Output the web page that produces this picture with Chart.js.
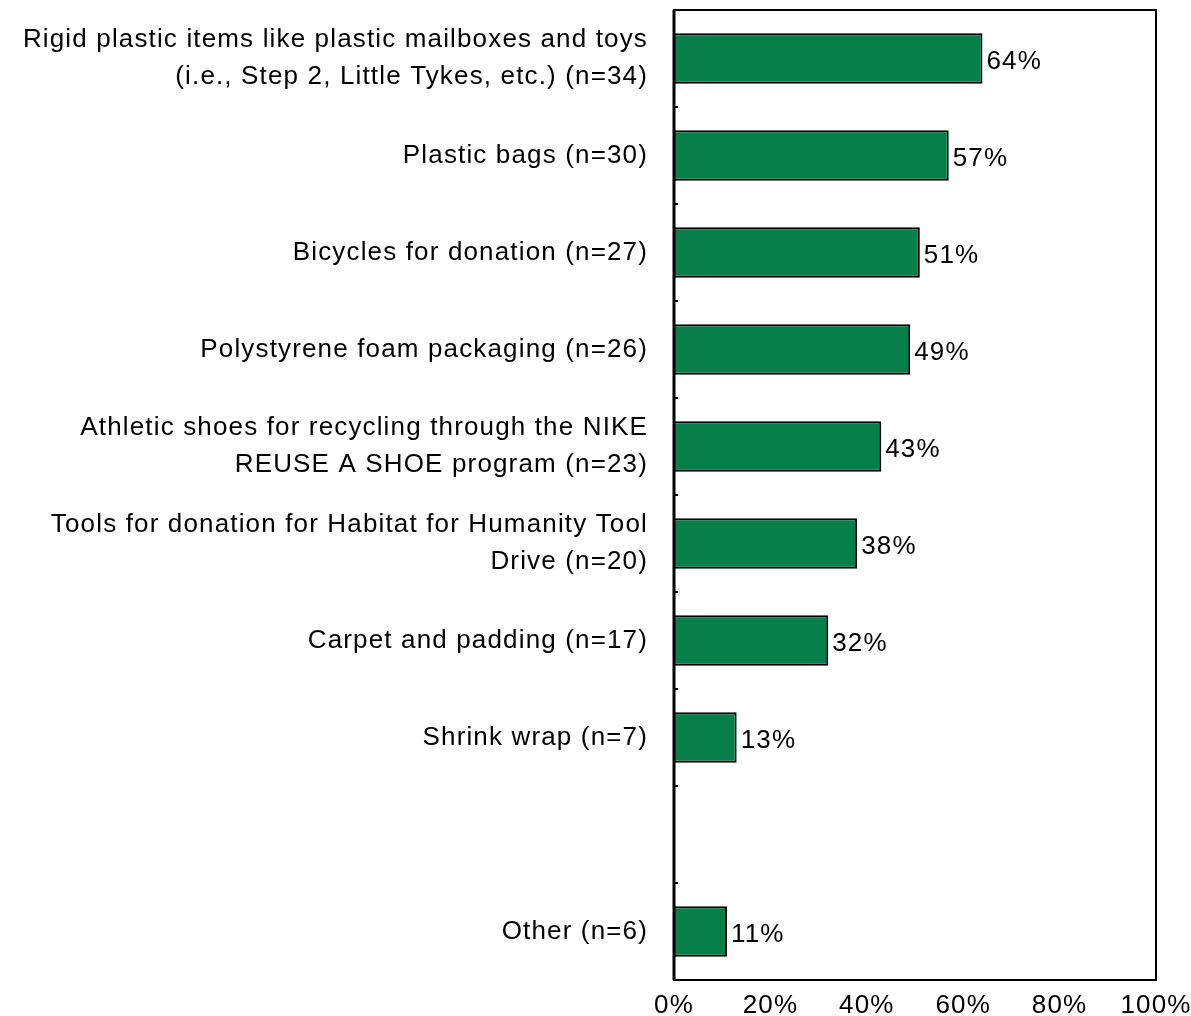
<!DOCTYPE html>
<html>
<head>
<meta charset="utf-8">
<script src="https://cdn.jsdelivr.net/npm/chart.js@4/dist/chart.umd.min.js"></script>
<style>
html,body{margin:0;padding:0;background:#fff;}
#wrap{width:1191px;height:1016px;position:relative;}
</style>
</head>
<body>
<div id="wrap"><canvas id="c" width="1191" height="1016"></canvas></div>
<script>
const categories = [
  ["Rigid plastic items like plastic mailboxes and toys", "(i.e., Step 2, Little Tykes, etc.) (n=34)"],
  "Plastic bags (n=30)",
  "Bicycles for donation (n=27)",
  "Polystyrene foam packaging (n=26)",
  ["Athletic shoes for recycling through the NIKE", "REUSE A SHOE program (n=23)"],
  ["Tools for donation for Habitat for Humanity Tool", "Drive (n=20)"],
  "Carpet and padding (n=17)",
  "Shrink wrap (n=7)",
  "",
  "Other (n=6)"
];
const percentValues = [64, 57, 51, 49, 43, 38, 32, 13, null, 11];
const xTickValues = [0, 20, 40, 60, 80, 100];

const FONT = "'Liberation Sans', Arial, sans-serif";
const LS = '1.15px';

const spacingPlugin = {
  id: 'spacing',
  beforeUpdate(chart) { chart.ctx.letterSpacing = LS; },
  beforeLayout(chart) { chart.ctx.letterSpacing = LS; },
  beforeDraw(chart) { chart.ctx.letterSpacing = LS; }
};

const framePlugin = {
  id: 'frame',
  afterDatasetsDraw(chart) {
    const ctx = chart.ctx, a = chart.chartArea;
    ctx.save();
    ctx.letterSpacing = LS;
    ctx.strokeStyle = '#000';
    ctx.lineWidth = 2;
    ctx.strokeRect(a.left, a.top, a.right - a.left, a.bottom - a.top);
    ctx.lineWidth = 3;
    ctx.beginPath();
    ctx.moveTo(a.left, a.top); ctx.lineTo(a.left, a.bottom);
    ctx.stroke();
    ctx.lineWidth = 2;
    // small inside ticks at category boundaries
    const n = categories.length;
    const step = (a.bottom - a.top) / n;
    ctx.beginPath();
    for (let i = 1; i < n; i++) {
      const yy = Math.round(a.top + step * i);
      ctx.moveTo(a.left, yy);
      ctx.lineTo(a.left + 4, yy);
    }
    ctx.stroke();
    // value labels
    const meta = chart.getDatasetMeta(0);
    ctx.fillStyle = '#000';
    ctx.font = '26px ' + FONT;
    ctx.textBaseline = 'middle';
    ctx.textAlign = 'left';
    meta.data.forEach((bar, i) => {
      const v = percentValues[i];
      if (v == null) return;
      ctx.fillText(v + '%', bar.x + 4, bar.y + 3);
    });
    ctx.restore();
  }
};

new Chart(document.getElementById('c'), {
  type: 'bar',
  data: {
    labels: categories,
    datasets: [{
      data: percentValues,
      backgroundColor: '#077F4B',
      borderColor: '#000',
      borderWidth: 2,
      borderSkipped: 'left',
      barPercentage: 0.52,
      categoryPercentage: 1.0
    }]
  },
  options: {
    indexAxis: 'y',
    responsive: false,
    animation: false,
    devicePixelRatio: 1,
    layout: { padding: { top: 10, right: 35, left: 0, bottom: 0 } },
    plugins: { legend: { display: false }, tooltip: { enabled: false } },
    scales: {
      x: {
        min: 0, max: 100,
        afterBuildTicks(scale) { scale.ticks = xTickValues.map(v => ({ value: v })); },
        grid: { display: false, drawTicks: false },
        border: { display: false },
        ticks: {
          color: '#000',
          font: { family: FONT, size: 26 },
          padding: 10,
          callback: v => v + '%',
          maxRotation: 0
        },
        afterFit(scale) { scale.height = 36; scale.paddingLeft = 0; scale.paddingRight = 0; }
      },
      y: {
        grid: { display: false, drawTicks: false },
        border: { display: false },
        ticks: {
          color: '#000',
          font: { family: FONT, size: 26, lineHeight: 1.44 },
          padding: 26,
          autoSkip: false
        },
        afterFit(scale) { scale.width = 674; scale.paddingTop = 0; scale.paddingBottom = 0; }
      }
    }
  },
  plugins: [spacingPlugin, framePlugin]
});
</script>
</body>
</html>
